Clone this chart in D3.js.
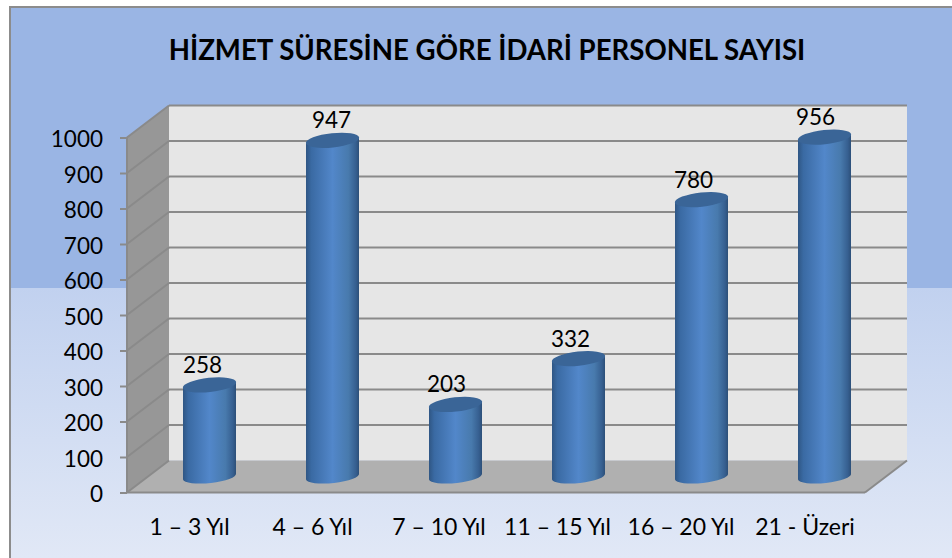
<!DOCTYPE html>
<html><head><meta charset="utf-8">
<script src="https://cdn.jsdelivr.net/npm/d3@7"></script>
<style>html,body{margin:0;padding:0;background:#fff}svg{display:block}text{font-family:Lato,"Open Sans",sans-serif;fill:#000}</style>
</head><body><svg id="c" width="952" height="558"></svg>
<script>
const titleText = "HİZMET SÜRESİNE GÖRE İDARİ PERSONEL SAYISI";
const categories = ["1 – 3 Yıl","4 – 6 Yıl","7 – 10 Yıl","11 – 15 Yıl","16 – 20 Yıl","21 - Üzeri"];
const values = [258,947,203,332,780,956];
const yTicks = [0,100,200,300,400,500,600,700,800,900,1000];
const labelShift = [-7,-1,-9,-8,-8,-9];
const categoryShift = [-20,-20,-16.5,-21,-20.5,-19.5];

const W=952,H=558;
const svg=d3.select("#c");
const defs=svg.append("defs");
const lg=defs.append("linearGradient").attr("id","low").attr("x1",0).attr("x2",0).attr("y1",0).attr("y2",1);
lg.append("stop").attr("offset",0).attr("stop-color","#c1d1ef");
lg.append("stop").attr("offset",1).attr("stop-color","#e1e8f6");
const cyl=defs.append("linearGradient").attr("id","cyl").attr("x1",0).attr("x2",1).attr("y1",0).attr("y2",0);
[[0,"#2f5684"],[0.1,"#3a6aa3"],[0.5,"#5287ca"],[0.8,"#487aad"],[0.94,"#365f90"],[1,"#2c4f78"]].forEach(s=>cyl.append("stop").attr("offset",s[0]).attr("stop-color",s[1]));

// background panel
svg.append("rect").attr("x",9).attr("y",6).attr("width",W-9).attr("height",282).attr("fill","#9ab5e4");
svg.append("rect").attr("x",9).attr("y",288).attr("width",W-9).attr("height",H-288).attr("fill","url(#low)");
svg.append("path").attr("d",`M10,${H}V7H${W}`).attr("fill","none").attr("stroke","#8c8c8c").attr("stroke-width",2);

svg.append("text").attr("x",487).attr("y",60).attr("text-anchor","middle")
  .attr("font-size",27.6).attr("font-weight",700).style("font-weight",700).text(titleText);

// 3D frame
const front={l:127,r:865};
const depth={x:42,y:-32};
const y=d3.scaleLinear().domain([0,1000]).range([492.5,137.5]);
const x=d3.scaleBand().domain(categories).range([front.l+21,front.r+21]);
const baseY=y(0)-16;

svg.append("rect").attr("x",front.l+depth.x).attr("y",y(1000)+depth.y)
  .attr("width",front.r-front.l).attr("height",y(0)-y(1000)).attr("fill","#e6e6e6");
svg.append("path").attr("d",`M${front.l},${y(0)}L${front.l},${y(1000)}L${front.l+depth.x},${y(1000)+depth.y}L${front.l+depth.x},${y(0)+depth.y}Z`).attr("fill","#979797");
svg.append("path").attr("d",`M${front.l},${y(0)}L${front.l+depth.x},${y(0)+depth.y}L${front.r+depth.x},${y(0)+depth.y}L${front.r},${y(0)}Z`).attr("fill","#b0b0b0");

const grid=svg.append("g").attr("fill","none").attr("stroke","#8a8a8a").attr("stroke-width",2);
yTicks.forEach(t=>{
  if(t>0) grid.append("line").attr("x1",front.l+depth.x).attr("x2",front.r+depth.x).attr("y1",y(t)+depth.y).attr("y2",y(t)+depth.y);
  grid.append("line").attr("x1",front.l).attr("x2",front.l+depth.x).attr("y1",y(t)).attr("y2",y(t)+depth.y);
});
grid.append("line").attr("x1",front.l).attr("x2",front.r).attr("y1",y(0)).attr("y2",y(0));
grid.append("line").attr("x1",front.r).attr("x2",front.r+depth.x).attr("y1",y(0)).attr("y2",y(0)+depth.y);
grid.append("line").attr("x1",front.l).attr("x2",front.l).attr("y1",y(0)).attr("y2",y(1000));

// y axis
const ax=svg.append("g").attr("transform",`translate(${front.l},0)`)
  .call(d3.axisLeft(y).tickValues(yTicks).tickFormat(d3.format("d")).tickSize(7).tickPadding(17));
ax.select(".domain").remove();
ax.selectAll("line").attr("stroke","#8a8a8a").attr("stroke-width",2);
ax.selectAll("text").attr("font-size",22.5).attr("dy","0.42em").style("font-family",'Lato,"Open Sans",sans-serif').attr("fill","#000");

// cylinders
const bw=53, rx=bw/2, ry=6.5, tilt=3;
const g=svg.append("g");
categories.forEach((c,i)=>{
  const cx=x(c)+x.bandwidth()/2;
  const topY=baseY-(y(0)-y(values[i]));
  const l=cx-bw/2,r=cx+bw/2;
  g.append("path").attr("d",`M${l},${topY+tilt}L${l},${baseY+tilt}A${rx},${ry} -6 0 0 ${r},${baseY-tilt}L${r},${topY-tilt}Z`).attr("fill","url(#cyl)");
  g.append("ellipse").attr("cx",cx).attr("cy",topY).attr("rx",rx+0.3).attr("ry",ry+0.6)
    .attr("transform",`rotate(-6 ${cx} ${topY})`).attr("fill","#3a6597");
  svg.append("text").attr("x",cx+labelShift[i]).attr("y",topY-12).attr("text-anchor","middle").attr("font-size",22.5).text(values[i]);
  svg.append("text").attr("x",cx+categoryShift[i]).attr("y",535).attr("text-anchor","middle").attr("font-size",23).text(c);
});
</script></body></html>
